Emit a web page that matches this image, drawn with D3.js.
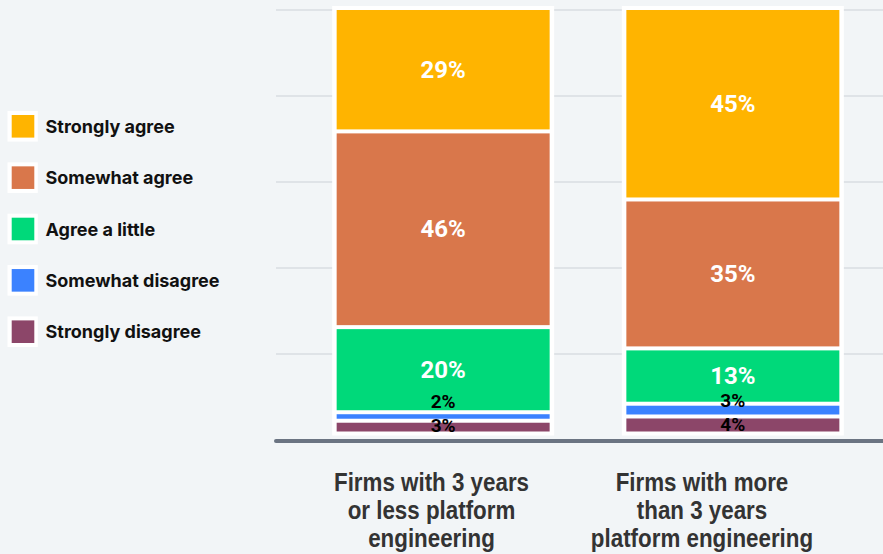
<!DOCTYPE html>
<html>
<head>
<meta charset="utf-8">
<script src="https://cdn.jsdelivr.net/npm/d3@7"></script>
<style>
  html, body { margin: 0; padding: 0; background: #f2f5f7; }
  svg { display: block; }
</style>
</head>
<body>
<svg id="chart" width="883" height="554"></svg>
<script>
// ---- data ----
const categories = [
  "Firms with 3 years\nor less platform\nengineering",
  "Firms with more\nthan 3 years\nplatform engineering"
];
const seriesNames = ["Strongly disagree", "Somewhat disagree", "Agree a little", "Somewhat agree", "Strongly agree"];
const stronglyDisagree = [3, 4];
const somewhatDisagree = [2, 3];
const agreeALittle = [20, 13];
const somewhatAgree = [46, 35];
const stronglyAgree = [29, 45];
const legendOrder = ["Strongly agree", "Somewhat agree", "Agree a little", "Somewhat disagree", "Strongly disagree"];
const gridTicks = [0, 20, 40, 60, 80, 100];
const colors = {
  "Strongly agree": "#ffb400",
  "Somewhat agree": "#d9774b",
  "Agree a little": "#00d97a",
  "Somewhat disagree": "#3b82ff",
  "Strongly disagree": "#8c4669"
};

// ---- build table ----
const seriesValues = [stronglyDisagree, somewhatDisagree, agreeALittle, somewhatAgree, stronglyAgree];
const table = categories.map((c, i) => {
  const row = { category: c };
  seriesNames.forEach((s, j) => row[s] = seriesValues[j][i]);
  return row;
});
const stacked = d3.stack().keys(seriesNames)(table);

const svg = d3.select("#chart");
const W = 883, H = 554;

// scales
const x = d3.scaleBand().domain(categories).range([298.3, 877.7]).paddingInner(0.2648).paddingOuter(0.1324);
const yBar = d3.scaleLinear().domain([0, 100]).range([433.5, 8]);
const yGrid = d3.scaleLinear().domain([0, 100]).range([440, 10]);
const xLabel = d3.scalePoint().domain(categories).range([431.5, 702]);

// gridlines
svg.append("g").selectAll("line")
  .data(gridTicks.filter(t => t > 0))
  .join("line")
  .attr("x1", 276).attr("x2", W)
  .attr("y1", d => yGrid(d)).attr("y2", d => yGrid(d))
  .attr("stroke", "#d9dde2").attr("stroke-width", 1.5);

// white backing per bar
svg.append("g").selectAll("rect")
  .data(categories)
  .join("rect")
  .attr("x", d => x(d) - 4.5)
  .attr("width", x.bandwidth() + 9)
  .attr("y", yBar(100) - 2)
  .attr("height", yBar(0) - yBar(100) + 4)
  .attr("fill", "#ffffff");

// segments
const segG = svg.append("g");
stacked.forEach(layer => {
  segG.append("g").selectAll("rect")
    .data(layer)
    .join("rect")
    .attr("x", d => x(d.data.category))
    .attr("width", x.bandwidth())
    .attr("y", d => yBar(d[1]) + 2)
    .attr("height", d => Math.max(0, yBar(d[0]) - yBar(d[1]) - 4))
    .attr("fill", colors[layer.key]);
});

// value labels, with simple collision avoidance for thin segments
const labels = [];
categories.forEach((c, ci) => {
  let prevY = Infinity;
  stacked.forEach(layer => {
    const d = layer[ci];
    const v = d[1] - d[0];
    let yy = (yBar(d[0]) + yBar(d[1])) / 2;
    yy = Math.min(yy, yBar(0) - 8.5, prevY - 24);
    prevY = yy;
    labels.push({ c, v, y: yy });
  });
});
svg.append("g").selectAll("text")
  .data(labels)
  .join("text")
  .attr("x", d => x(d.c) + x.bandwidth() / 2)
  .attr("y", d => d.y)
  .attr("text-anchor", "middle")
  .attr("dominant-baseline", "central")
  .attr("font-family", "Roboto, 'Open Sans', sans-serif")
  .attr("font-weight", 700)
  .attr("font-size", d => d.v >= 10 ? 24 : 19)
  .attr("fill", d => d.v >= 10 ? "#ffffff" : "#000000")
  .text(d => d.v + "%");

// baseline
svg.append("line")
  .attr("x1", 276).attr("x2", W + 5)
  .attr("y1", yGrid(0) + 1).attr("y2", yGrid(0) + 1)
  .attr("stroke", "#6b7482").attr("stroke-width", 4)
  .attr("stroke-linecap", "round");

// category labels (condensed look)
const catG = svg.append("g");
categories.forEach(c => {
  const t = catG.append("text")
    .attr("transform", `translate(${xLabel(c)},491) scale(0.86,1)`)
    .attr("text-anchor", "middle")
    .attr("font-family", "'Liberation Sans', Arial, sans-serif")
    .attr("font-weight", 700)
    .attr("font-size", 26)
    .attr("fill", "#333333");
  c.split("\n").forEach((line, i) => {
    t.append("tspan").attr("x", 0).attr("dy", i === 0 ? 0 : 28).text(line);
  });
});

// legend
const legY = d3.scalePoint().domain(legendOrder).range([126.3, 331.7]);
const leg = svg.append("g").selectAll("g")
  .data(legendOrder)
  .join("g")
  .attr("transform", d => `translate(0,${legY(d)})`);
leg.append("rect").attr("x", 7.5).attr("y", -15.3).attr("width", 30.3).attr("height", 30.6).attr("fill", "#ffffff");
leg.append("rect").attr("x", 11.7).attr("y", -11.3).attr("width", 22.6).attr("height", 22.6).attr("fill", d => colors[d]);
leg.append("text")
  .attr("x", 45.5).attr("y", 0)
  .attr("dominant-baseline", "central")
  .attr("font-family", "Inter, Roboto, sans-serif")
  .attr("font-weight", 700)
  .attr("font-size", 18)
  .attr("fill", "#111111")
  .text(d => d);
</script>
</body>
</html>
